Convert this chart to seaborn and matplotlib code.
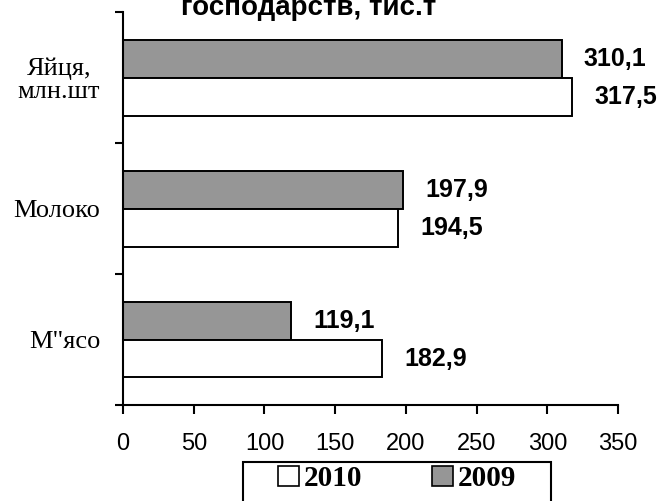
import matplotlib
matplotlib.use("Agg")
import matplotlib.pyplot as plt
from matplotlib.patches import Patch
from matplotlib.path import Path
import pandas as pd
import seaborn as sns

# data
categories = ['Яйця,\nмлн.шт', 'Молоко', 'М"ясо']
values_2009 = [310.1, 197.9, 119.1]
values_2010 = [317.5, 194.5, 182.9]
years = ['2009', '2010']
x_ticks = [0, 50, 100, 150, 200, 250, 300, 350]
title_text = 'господарств, тис.т'

df = pd.DataFrame({
    'cat': categories * 2,
    'value': values_2009 + values_2010,
    'year': ['2009'] * 3 + ['2010'] * 3,
})

sns.set_style("ticks")
plt.rcParams['font.family'] = ['Liberation Sans', 'DejaVu Sans']
plt.rcParams['text.color'] = 'black'
plt.rcParams['xtick.color'] = 'black'
plt.rcParams['ytick.color'] = 'black'
plt.rcParams['axes.labelcolor'] = 'black'

colors = {'2009': '#969696', '2010': 'white'}

fig = plt.figure(figsize=(6.69, 5.01), dpi=100)
ax = fig.add_axes([0.1839, 0.1916, 0.7399, 0.7844])

sns.barplot(data=df, y='cat', x='value', hue='year', hue_order=years,
            palette=colors, edgecolor='black', linewidth=1.4, width=0.58,
            orient='h', legend=False, saturation=1, ax=ax)

for cont in ax.containers:
    labels = [f"{b.get_width():.1f}".replace('.', ',') for b in cont]
    ax.bar_label(cont, labels=labels, padding=16, fontsize=18, color='black',
                 fontweight='bold', family='Liberation Sans')

ax.set_xlim(0, 350)
ax.set_xticks(x_ticks)
ax.set_ylim(2.5, -0.5)
ax.set_yticks(range(len(categories)))
ax.set_yticks([-0.5, 0.5, 1.5, 2.5], minor=True)
ax.set_yticklabels(categories, fontsize=19, family='Liberation Serif',
                   linespacing=1.05, multialignment='center')
ax.set_xlabel('')
ax.set_ylabel('')

for s in ['top', 'right']:
    ax.spines[s].set_visible(False)
for s in ['left', 'bottom']:
    ax.spines[s].set_linewidth(1.5)
    ax.spines[s].set_color('black')

ax.tick_params(axis='x', length=6.5, width=1.5, pad=14, labelsize=17,
               color='black', labelcolor='black')
ax.tick_params(axis='y', which='major', length=0, pad=16.5, labelcolor='black')
ax.tick_params(axis='y', which='minor', length=6, width=1.5, color='black',
               direction='out')

fig.text(0.461, 1 - 15 / 501, title_text, ha='center', va='baseline',
         fontsize=20, fontweight='bold', family='Liberation Sans',
         color='black')

handles = [Patch(facecolor=colors['2010'], edgecolor='black', linewidth=1.2),
           Patch(facecolor=colors['2009'], edgecolor='black', linewidth=1.2)]
leg = fig.legend(handles, ['2010', '2009'], loc='upper center',
                 bbox_to_anchor=(0.594, 1 - 465 / 501), ncol=2,
                 prop={'family': 'Liberation Serif', 'weight': 'bold', 'size': 21},
                 frameon=True, fancybox=False, framealpha=1, edgecolor='black',
                 borderpad=0, borderaxespad=0, handlelength=0.7,
                 handleheight=0.7, handletextpad=0.18, columnspacing=2.4)


def wide_box(x0, y0, width, height, mutation_size):
    # legend frame in the reference is wider than its contents and runs
    # past the bottom edge of the picture
    px = 1.2 * mutation_size
    top = y0 + height + 0.1 * mutation_size
    bottom = y0 - 1.0 * mutation_size
    return Path([(x0 - px, bottom), (x0 + width + px, bottom),
                 (x0 + width + px, top), (x0 - px, top),
                 (x0 - px, bottom)], closed=True)


leg.get_frame().set_boxstyle(wide_box)
leg.get_frame().set_linewidth(1.5)

fig.savefig('out.png', dpi=100)
